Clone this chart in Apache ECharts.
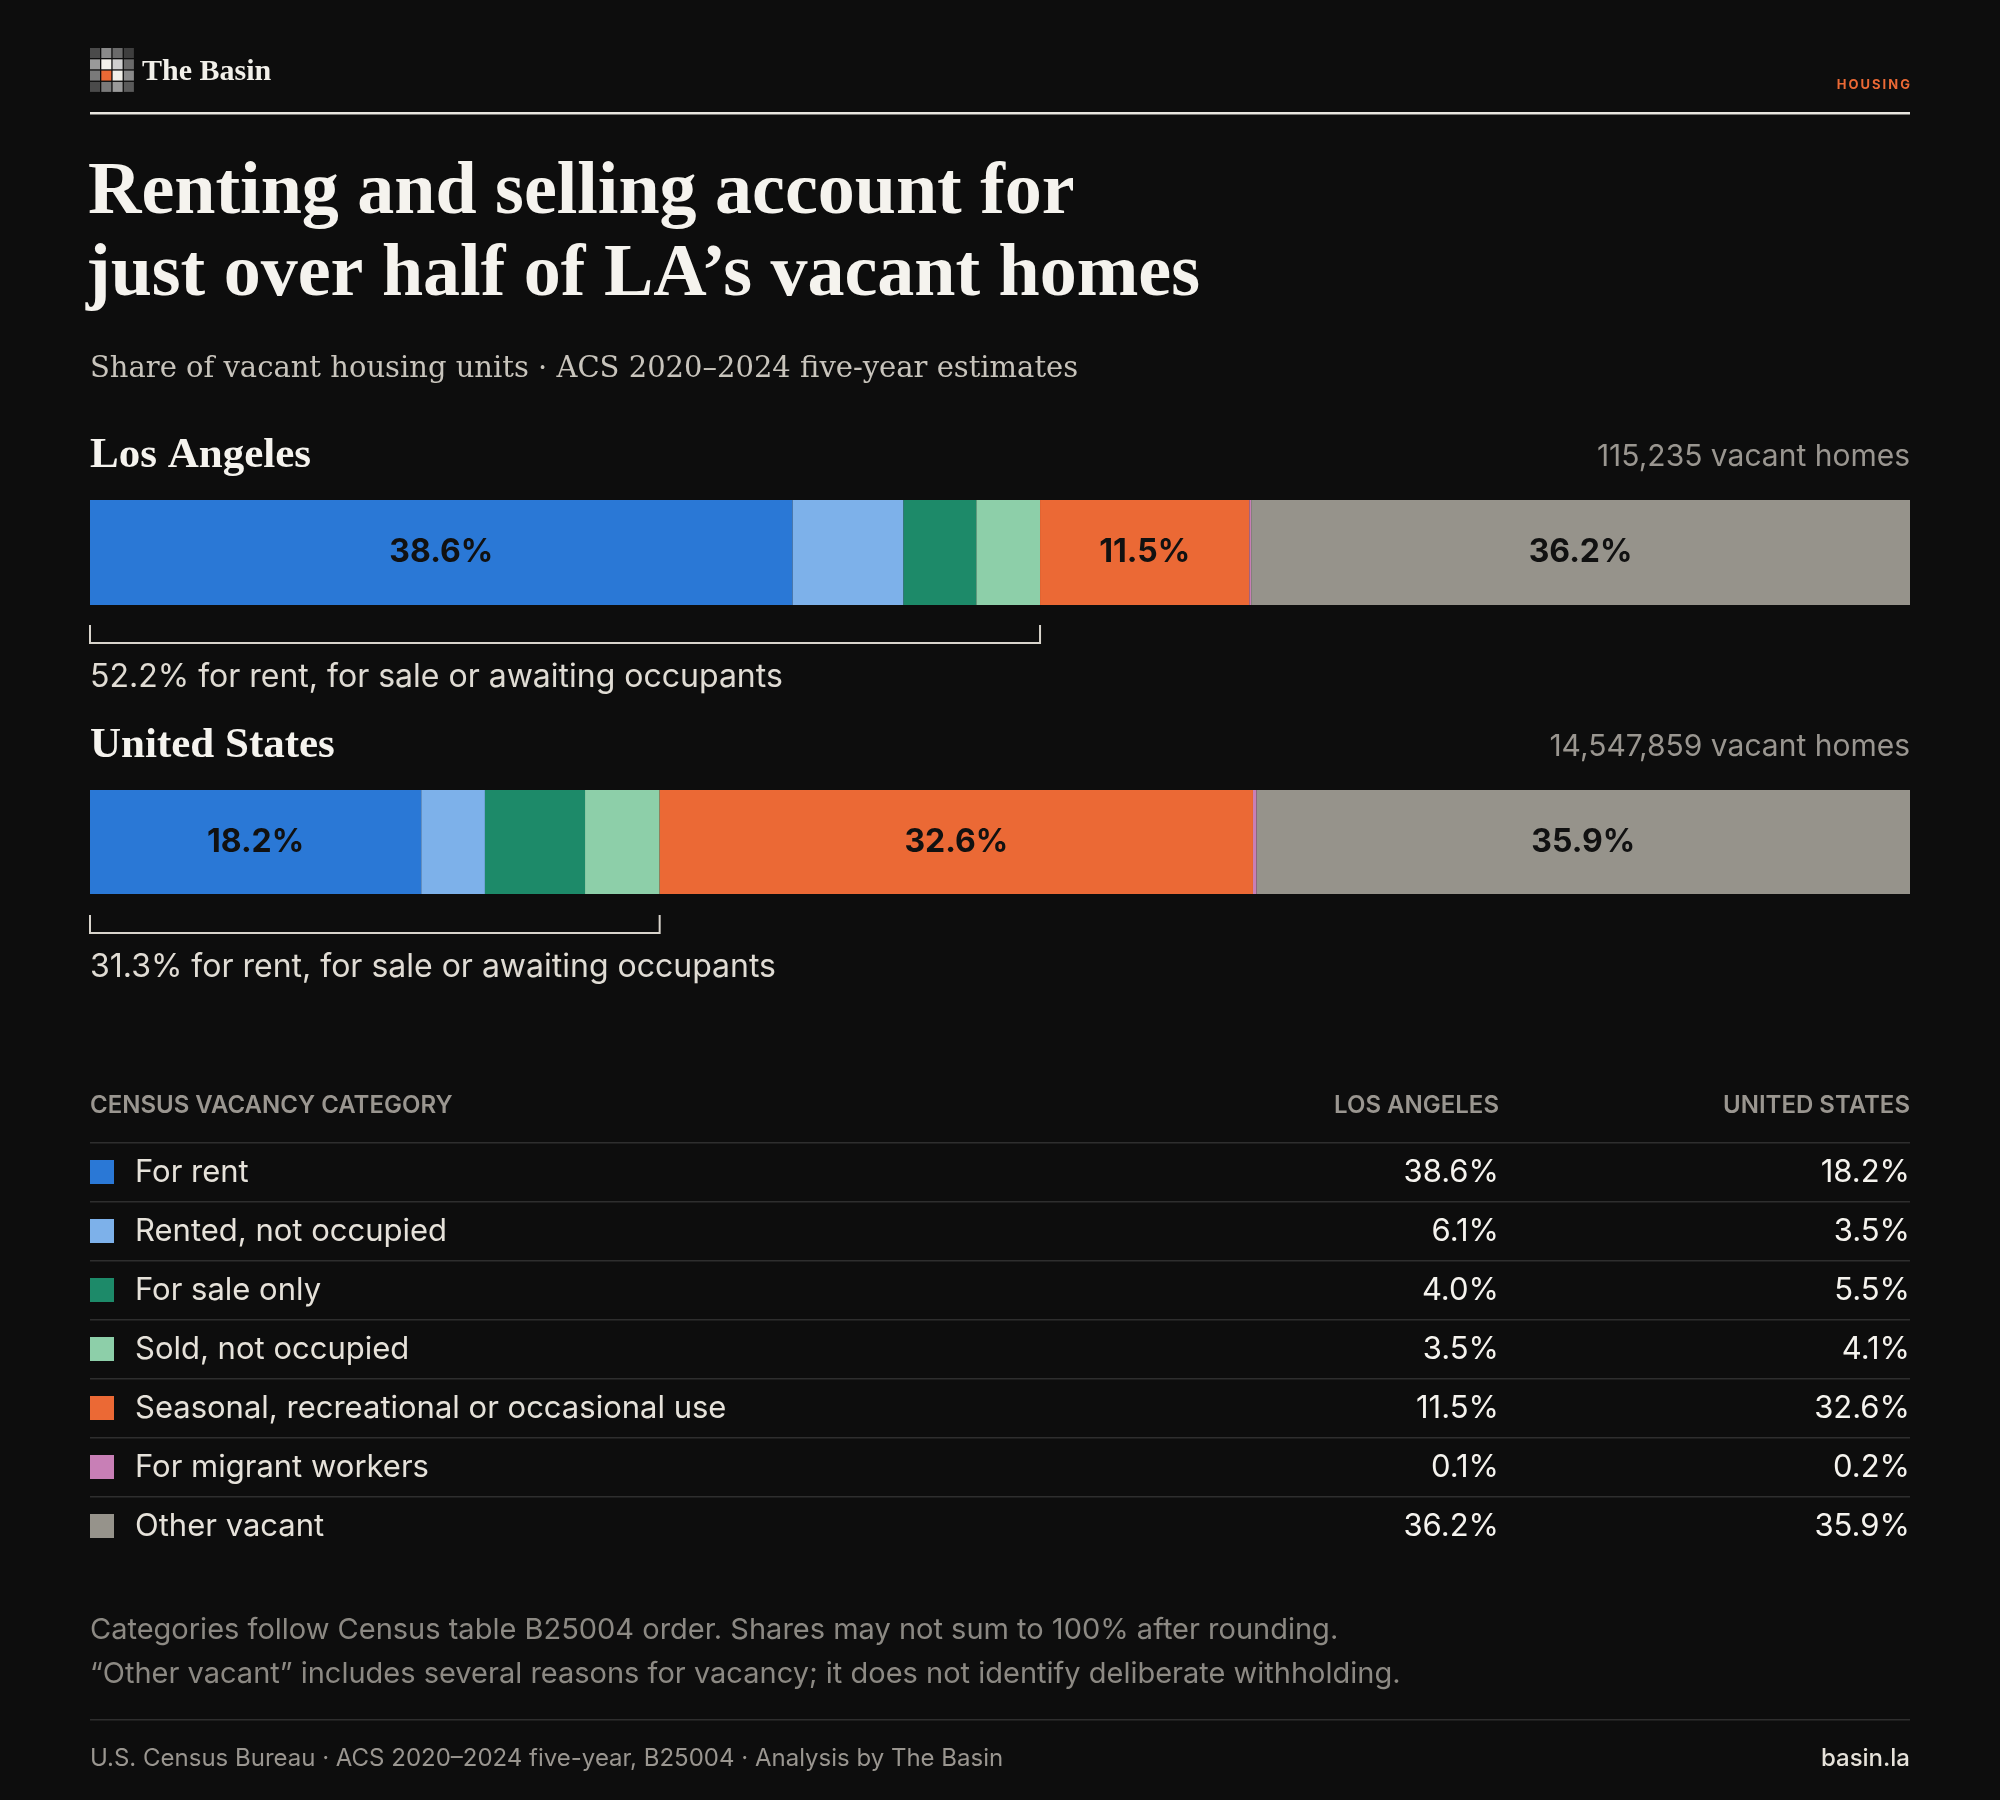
<!DOCTYPE html>
<html><head><meta charset="utf-8">
<script src="https://cdn.jsdelivr.net/npm/echarts@6/dist/echarts.min.js"></script>
<style>html,body{margin:0;background:#0d0d0d}#c{width:2000px;height:1800px}</style>
</head><body><div id="c"></div>
<script>
const categories = ['For rent','Rented, not occupied','For sale only','Sold, not occupied','Seasonal, recreational or occasional use','For migrant workers','Other vacant'];
const colors = ['#2a78d6','#7db1ea','#1d8a69','#8dcfa9','#eb6935','#c87fb6','#96938b'];
const laValues = [38.6, 6.1, 4.0, 3.5, 11.5, 0.1, 36.2];
const usValues = [18.2, 3.5, 5.5, 4.1, 32.6, 0.2, 35.9];
const laTotal = '115,235 vacant homes';
const usTotal = '14,547,859 vacant homes';
const laOccupied = 52.2, usOccupied = 31.3;

const serif = '"DejaVu Serif", serif';
const serif2 = '"Liberation Serif", serif';
const sans = 'Inter, "Noto Sans", sans-serif';
const chart = echarts.init(document.getElementById('c'));

let series = [];
[laValues, usValues].forEach((vals, g) => {
  categories.forEach((name, i) => {
    series.push({
      name, type: 'bar', stack: 's' + g, xAxisIndex: g, yAxisIndex: g,
      barWidth: '100%', data: [vals[i]], itemStyle: {color: colors[i]},
      label: {show: vals[i] >= 10, formatter: vals[i].toFixed(1) + '%', color: '#111',
        fontFamily: sans, fontWeight: 'bold', fontSize: 32},
      emphasis: {disabled: true}, silent: true
    });
  });
});

chart.setOption({
  backgroundColor: '#0d0d0d', animation: false,
  grid: [{left: 90, right: 90, top: 500, height: 105}, {left: 90, right: 90, top: 790, height: 104}],
  xAxis: [0, 1].map(i => ({gridIndex: i, type: 'value', min: 0, max: 100, show: false})),
  yAxis: [0, 1].map(i => ({gridIndex: i, type: 'category', data: [''], show: false})),
  series
});

const g = [];
// logo
const logoCols = [['#4a4a4a','#8a8a8a','#6a6a6a','#3e3e3e'],['#9a9a9a','#f2f0ea','#cfcfcf','#6a6a6a'],['#7a7a7a','#eb6935','#f2f0ea','#8a8a8a'],['#4a4a4a','#7a7a7a','#9a9a9a','#5a5a5a']];
logoCols.forEach((row, r) => row.forEach((c, k) => g.push({type:'rect', shape:{x:90+k*11.3, y:48+r*11.3, width:10, height:10}, style:{fill:c}})));
const txt = (x, y, text, size, color, opt) => g.push({type:'text', x, y, style: Object.assign({text, fontSize:size, fill:color, fontFamily:sans, verticalAlign:'middle', align:'left'}, opt||{})});
txt(142, 72, 'The Basin', 30, '#f2f0ea', {fontFamily: serif2, fontWeight: 'bold'});
txt(1910, 85, 'H\u2009O\u2009U\u2009S\u2009I\u2009N\u2009G', 13, '#eb6935', {align:'right', fontWeight:'bold'});
g.push({type:'rect', shape:{x:90, y:112, width:1820, height:2.5}, style:{fill:'#e8e6e0'}});
txt(88, 194, 'Renting and selling account for', 74, '#f5f3ee', {fontFamily: serif2, fontWeight:'bold'});
txt(86, 276, 'just over half of LA\u2019s vacant homes', 74, '#f5f3ee', {fontFamily: serif2, fontWeight:'bold'});
txt(90, 369, 'Share of vacant housing units \u00b7 ACS 2020\u20132024 five-year estimates', 29, '#c8c4bc', {fontFamily: serif});
txt(90, 456, 'Los Angeles', 43, '#f5f3ee', {fontFamily: serif2, fontWeight:'bold'});
txt(1910, 457, laTotal, 30, '#9a9690', {align:'right'});
txt(90, 746, 'United States', 43, '#f5f3ee', {fontFamily: serif2, fontWeight:'bold'});
txt(1910, 747, usTotal, 30, '#9a9690', {align:'right'});

// brackets
[[0, laOccupied, 625, 677], [1, usOccupied, 915, 967]].forEach(([gi, v, y, ty]) => {
  const x0 = chart.convertToPixel({xAxisIndex: gi}, 0);
  const x1 = chart.convertToPixel({xAxisIndex: gi}, v);
  g.push({type:'polyline', shape:{points:[[x0, y], [x0, y+18], [x1, y+18], [x1, y]]}, style:{stroke:'#d8d4cc', lineWidth:2, fill:null}});
  txt(90, ty, v.toFixed(1) + '% for rent, for sale or awaiting occupants', 32, '#e0dcd4');
});

// table
txt(90, 1106, 'CENSUS VACANCY CATEGORY', 24, '#9a9690', {fontWeight: 600});
txt(1499, 1106, 'LOS ANGELES', 24, '#9a9690', {fontWeight: 600, align:'right'});
txt(1910, 1106, 'UNITED STATES', 24, '#9a9690', {fontWeight: 600, align:'right'});
g.push({type:'rect', shape:{x:90, y:1142, width:1820, height:1.5}, style:{fill:'#2e2e2e'}});
categories.forEach((name, i) => {
  const y = 1173 + i * 59;
  g.push({type:'rect', shape:{x:90, y:y-13, width:24, height:24}, style:{fill:colors[i]}});
  txt(135, y, name, 31, '#e6e2da');
  txt(1499, y, laValues[i].toFixed(1) + '%', 31, '#f5f3ee', {align:'right'});
  txt(1910, y, usValues[i].toFixed(1) + '%', 31, '#f5f3ee', {align:'right'});
  if (i < categories.length - 1) g.push({type:'rect', shape:{x:90, y:y+28, width:1820, height:1.5}, style:{fill:'#2e2e2e'}});
});

txt(90, 1630, 'Categories follow Census table B25004 order. Shares may not sum to 100% after rounding.', 29, '#8c8983');
txt(90, 1674, '\u201cOther vacant\u201d includes several reasons for vacancy; it does not identify deliberate withholding.', 29, '#8c8983');
g.push({type:'rect', shape:{x:90, y:1719, width:1820, height:1.5}, style:{fill:'#2e2e2e'}});
txt(90, 1759, 'U.S. Census Bureau \u00b7 ACS 2020\u20132024 five-year, B25004 \u00b7 Analysis by The Basin', 24, '#9a9690');
txt(1910, 1759, 'basin.la', 24, '#e6e2da', {align:'right', fontWeight: 500});

chart.setOption({graphic: g});
</script></body></html>
